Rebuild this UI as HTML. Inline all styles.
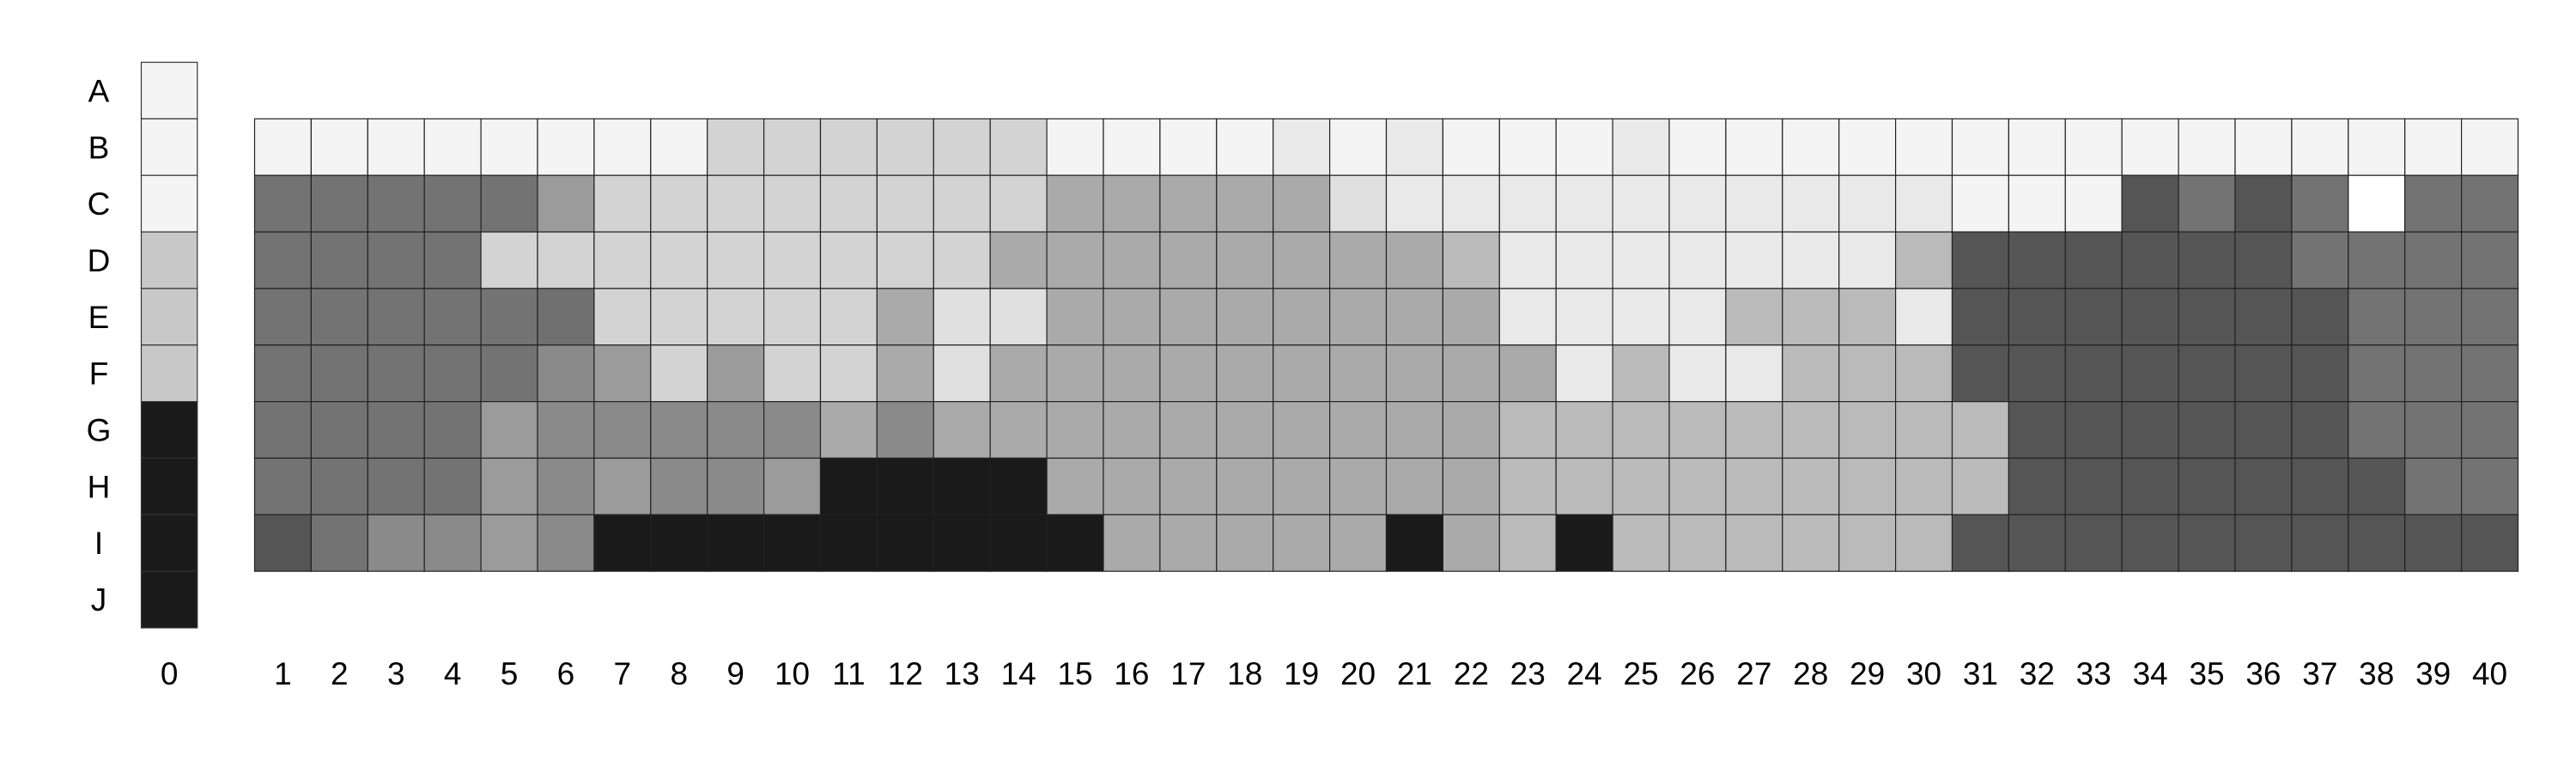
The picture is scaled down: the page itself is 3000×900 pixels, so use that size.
<!DOCTYPE html>
<html><head><meta charset="utf-8"><style>
html,body{margin:0;padding:0;background:#fff;}
svg{display:block;font-family:"Liberation Sans",sans-serif;}
</style></head><body>
<svg id="chart" width="3000" height="900" viewBox="0 0 3000 900" xmlns="http://www.w3.org/2000/svg"></svg>
<script>
const rowLabels = ["A","B","C","D","E","F","G","H","I","J"];
const colLabels = ["1","2","3","4","5","6","7","8","9","10","11","12","13","14","15","16","17","18","19","20","21","22","23","24","25","26","27","28","29","30","31","32","33","34","35","36","37","38","39","40"];
const col0Values = [0xf4,0xf4,0xf4,0xc8,0xc8,0xc8,0x1a,0x1a,0x1a,0x1a];
const rowB = [0xf4,0xf4,0xf4,0xf4,0xf4,0xf4,0xf4,0xf4,0xd3,0xd3,0xd3,0xd3,0xd3,0xd3,0xf4,0xf4,0xf4,0xf4,0xe9,0xf4,0xe9,0xf4,0xf4,0xf4,0xe9,0xf4,0xf4,0xf4,0xf4,0xf4,0xf4,0xf4,0xf4,0xf4,0xf4,0xf4,0xf4,0xf4,0xf4,0xf4];
const rowC = [0x73,0x73,0x73,0x73,0x73,0x9b,0xd3,0xd3,0xd3,0xd3,0xd3,0xd3,0xd3,0xd3,0xaa,0xaa,0xaa,0xaa,0xaa,0xe0,0xe9,0xe9,0xe9,0xe9,0xe9,0xe9,0xe9,0xe9,0xe9,0xe9,0xf4,0xf4,0xf4,0x55,0x73,0x55,0x73,0xff,0x73,0x73];
const rowD = [0x73,0x73,0x73,0x73,0xd3,0xd3,0xd3,0xd3,0xd3,0xd3,0xd3,0xd3,0xd3,0xaa,0xaa,0xaa,0xaa,0xaa,0xaa,0xaa,0xaa,0xba,0xe9,0xe9,0xe9,0xe9,0xe9,0xe9,0xe9,0xba,0x55,0x55,0x55,0x55,0x55,0x55,0x73,0x73,0x73,0x73];
const rowE = [0x73,0x73,0x73,0x73,0x73,0x70,0xd3,0xd3,0xd3,0xd3,0xd3,0xaa,0xe0,0xe0,0xaa,0xaa,0xaa,0xaa,0xaa,0xaa,0xaa,0xaa,0xe9,0xe9,0xe9,0xe9,0xba,0xba,0xba,0xe9,0x55,0x55,0x55,0x55,0x55,0x55,0x55,0x73,0x73,0x73];
const rowF = [0x73,0x73,0x73,0x73,0x73,0x8a,0x9b,0xd3,0x9b,0xd3,0xd3,0xaa,0xe0,0xaa,0xaa,0xaa,0xaa,0xaa,0xaa,0xaa,0xaa,0xaa,0xaa,0xe9,0xba,0xe9,0xe9,0xba,0xba,0xba,0x55,0x55,0x55,0x55,0x55,0x55,0x55,0x73,0x73,0x73];
const rowG = [0x73,0x73,0x73,0x73,0x9b,0x8a,0x8a,0x8a,0x8a,0x8a,0xaa,0x8a,0xaa,0xaa,0xaa,0xaa,0xaa,0xaa,0xaa,0xaa,0xaa,0xaa,0xba,0xba,0xba,0xba,0xba,0xba,0xba,0xba,0xba,0x55,0x55,0x55,0x55,0x55,0x55,0x73,0x73,0x73];
const rowH = [0x73,0x73,0x73,0x73,0x9b,0x8a,0x9b,0x8a,0x8a,0x9b,0x1a,0x1a,0x1a,0x1a,0xaa,0xaa,0xaa,0xaa,0xaa,0xaa,0xaa,0xaa,0xba,0xba,0xba,0xba,0xba,0xba,0xba,0xba,0xba,0x55,0x55,0x55,0x55,0x55,0x55,0x55,0x73,0x73];
const rowI = [0x55,0x73,0x8a,0x8a,0x9b,0x8a,0x1a,0x1a,0x1a,0x1a,0x1a,0x1a,0x1a,0x1a,0x1a,0xaa,0xaa,0xaa,0xaa,0xaa,0x1a,0xaa,0xba,0x1a,0xba,0xba,0xba,0xba,0xba,0xba,0x55,0x55,0x55,0x55,0x55,0x55,0x55,0x55,0x55,0x55];
const gridRows = [rowB,rowC,rowD,rowE,rowF,rowG,rowH,rowI];

const NS="http://www.w3.org/2000/svg";
const svg=document.getElementById('chart');
const top0=72.5, rowH_=65.85, gridLeft=296.5, colW=65.9, c0Left=164.5, c0W=65.3;
function yPos(i){return top0+i*rowH_;}
function xPos(j){return gridLeft+j*colW;}
function gray(v){const h=v.toString(16).padStart(2,'0');return '#'+h+h+h;}

col0Values.forEach((v,i)=>{
  const r=document.createElementNS(NS,'rect');
  r.setAttribute('x',c0Left);r.setAttribute('y',yPos(i));
  r.setAttribute('width',c0W);r.setAttribute('height',rowH_);
  r.setAttribute('fill',gray(v));r.setAttribute('stroke','#333');r.setAttribute('stroke-width','1.2');
  
  
  svg.appendChild(r);
});
gridRows.forEach((row,ri)=>{
  row.forEach((v,j)=>{
    const r=document.createElementNS(NS,'rect');
    r.setAttribute('x',xPos(j));r.setAttribute('y',yPos(ri+1));
    r.setAttribute('width',colW);r.setAttribute('height',rowH_);
    r.setAttribute('fill',gray(v));r.setAttribute('stroke','#222');r.setAttribute('stroke-width','1.2');
    
    
    svg.appendChild(r);
  });
});
rowLabels.forEach((l,i)=>{
  const t=document.createElementNS(NS,'text');
  t.setAttribute('x',115);t.setAttribute('y',yPos(i)+rowH_/2+13);
  t.setAttribute('text-anchor','middle');t.setAttribute('font-size','37');
  t.textContent=l;
  
  
  svg.appendChild(t);
});
const allCols=["0"].concat(colLabels);
allCols.forEach((l,k)=>{
  const t=document.createElementNS(NS,'text');
  const cx = k===0 ? c0Left+c0W/2 : xPos(k-1)+colW/2;
  t.setAttribute('x',cx);t.setAttribute('y',797);
  t.setAttribute('text-anchor','middle');t.setAttribute('font-size','37');
  t.textContent=l;
  
  
  svg.appendChild(t);
});
</script>
</body></html>
